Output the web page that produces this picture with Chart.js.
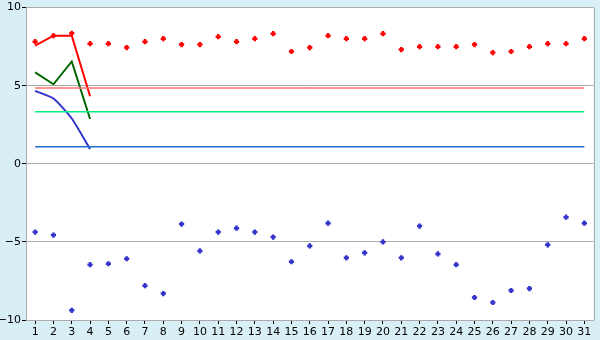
<!DOCTYPE html>
<html>
<head>
<meta charset="utf-8">
<script src="https://cdn.jsdelivr.net/npm/chart.js@4/dist/chart.umd.min.js"></script>
<style>
  html, body { margin: 0; padding: 0; background: #d9eff6; }
  #wrap { width: 600px; height: 340px; }
</style>
</head>
<body>
<div id="wrap"><canvas id="myChart" width="600" height="340"></canvas></div>
<script>
var days = ["1","2","3","4","5","6","7","8","9","10","11","12","13","14","15","16",
  "17","18","19","20","21","22","23","24","25","26","27","28","29","30","31"];

var redPoints = [7.82, 8.2, 8.35, 7.69, 7.69, 7.44, 7.82, 8.01, 7.63, 7.63, 8.14, 7.82,
  8.01, 8.33, 7.19, 7.44, 8.2, 8.01, 8.01, 8.33, 7.31, 7.5, 7.5, 7.5, 7.63, 7.12,
  7.19, 7.5, 7.69, 7.69, 8.01];

var bluePoints = [-4.37, -4.56, -9.38, -6.46, -6.4, -6.08, -7.8, -8.31, -3.86, -5.58,
  -4.37, -4.12, -4.37, -4.69, -6.27, -5.26, -3.8, -6.02, -5.7, -5.0, -6.02, -3.99,
  -5.77, -6.46, -8.56, -8.88, -8.11, -7.99, -5.19, -3.42, -3.8];

var redLine = [7.57, 8.2, 8.2, 4.33];
var greenLine = [5.85, 5.09, 6.55, 2.87];
var blueLine = [4.67, 4.18, 2.9, 0.94];

// flat reference levels, drawn from day 1 to day 31
var pinkLevel = 4.86;
var springLevel = 3.33;
var skyLevel = 1.09;

var yTicks = [-10, -5, 0, 5, 10];

function level(v) {
  return [{ x: days[0], y: v }, { x: days[days.length - 1], y: v }];
}

var frame = {
  id: "frame",
  afterDraw: function (chart) {
    var a = chart.chartArea;
    var ctx = chart.ctx;
    ctx.save();
    ctx.strokeStyle = "#aaaaaa";
    ctx.lineWidth = 1;
    ctx.beginPath();
    ctx.moveTo(Math.round(a.right) + 0.5, a.top);
    ctx.lineTo(Math.round(a.right) + 0.5, a.bottom);
    ctx.stroke();
    ctx.restore();
  },
  beforeDraw: function (chart) {
    var a = chart.chartArea;
    var ctx = chart.ctx;
    ctx.save();
    ctx.fillStyle = "#ffffff";
    ctx.fillRect(a.left, a.top, a.right - a.left, a.bottom - a.top);
    ctx.restore();
  },
};

window.onload = function () {
  var ctx = document.getElementById("myChart").getContext("2d");
  new Chart(ctx, {
    type: "line",
    data: {
      labels: days,
      datasets: [
        { data: level(pinkLevel), borderColor: "#ff7070", borderWidth: 1.5, pointRadius: 0 },
        { data: level(springLevel), borderColor: "#00f080", borderWidth: 1.5, pointRadius: 0 },
        { data: level(skyLevel), borderColor: "#1e6fd8", borderWidth: 1.5, pointRadius: 0 },
        { data: redLine, borderColor: "#ff0000", borderWidth: 2, pointRadius: 0 },
        { data: greenLine, borderColor: "#006600", borderWidth: 2, pointRadius: 0 },
        { data: blueLine, borderColor: "#3333cc", borderWidth: 2, pointRadius: 0, tension: 0.2 },
        {
          data: redPoints, showLine: false, pointStyle: "cross", pointRadius: 2.6,
          pointBorderWidth: 2.5, borderColor: "#ff0000", backgroundColor: "#ff0000",
        },
        {
          data: bluePoints, showLine: false, pointStyle: "cross", pointRadius: 2.6,
          pointBorderWidth: 2.5, borderColor: "#3333cc", backgroundColor: "#3333cc",
        },
      ],
    },
    options: {
      responsive: false,
      animation: false,
      layout: { padding: { top: 5, right: 5, left: 0, bottom: 0 } },
      plugins: { legend: { display: false }, tooltip: { enabled: false } },
      scales: {
        x: {
          offset: true,
          grid: { drawOnChartArea: false, tickColor: "#000000", tickLength: 4, offset: false },
          border: { color: "#aaaaaa" },
          ticks: {
            color: "#000000", padding: 2, maxRotation: 0, autoSkip: false,
            font: { family: "DejaVu Sans", size: 11 },
          },
          afterFit: function (s) { s.height = 20; },
        },
        y: {
          min: -10,
          max: 10,
          afterBuildTicks: function (s) { s.ticks = yTicks.map(function (v) { return { value: v }; }); },
          grid: { color: "#aaaaaa", tickColor: "#000000", tickLength: 4 },
          border: { color: "#aaaaaa" },
          ticks: {
            color: "#000000", padding: 1,
            font: { family: "DejaVu Sans", size: 11 },
            callback: function (v) { return v < 0 ? "\u2212" + Math.abs(v) : String(v); },
          },
          afterFit: function (s) { s.width = 26; },
        },
      },
    },
    plugins: [frame],
  });
};
</script>
</body>
</html>
